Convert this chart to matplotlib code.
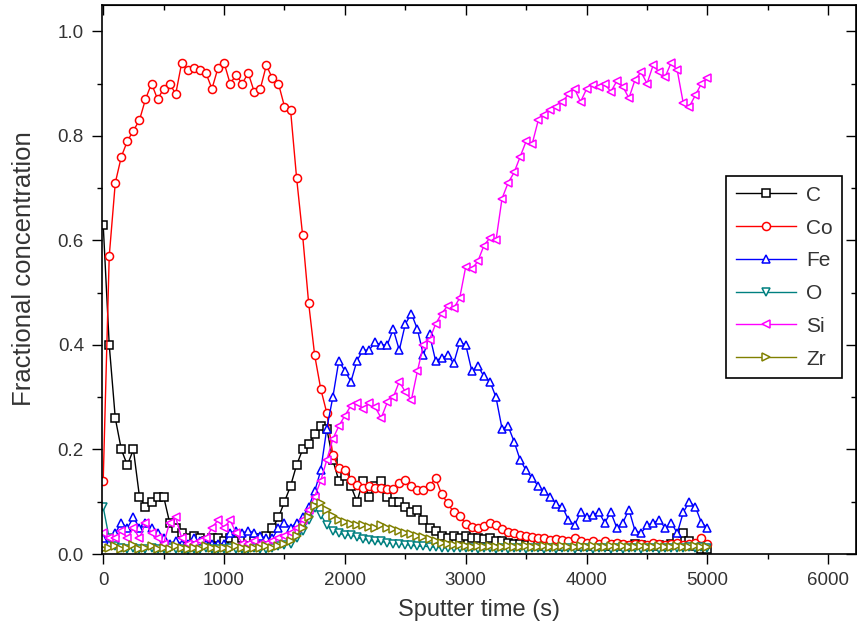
import numpy as np
import matplotlib.pyplot as plt
from matplotlib.ticker import MultipleLocator, FormatStrFormatter

plt.rcParams['font.family'] = ['Liberation Sans', 'DejaVu Sans']

# sputter time grid (s)
tempo = np.arange(0, 5050, 50)

C = [0.63, 0.40, 0.26, 0.20, 0.17, 0.20, 0.11, 0.09, 0.10, 0.11,
     0.11, 0.06, 0.05, 0.04, 0.03, 0.035, 0.03, 0.025, 0.03, 0.03,
     0.025, 0.03, 0.025, 0.03, 0.03, 0.025, 0.03, 0.035, 0.05, 0.07,
     0.10, 0.13, 0.17, 0.20, 0.21, 0.23, 0.245, 0.24, 0.18, 0.14,
     0.15, 0.13, 0.10, 0.14, 0.11, 0.13, 0.14, 0.11, 0.10, 0.10,
     0.09, 0.08, 0.085, 0.065, 0.05, 0.045, 0.035, 0.03, 0.035, 0.03,
     0.035, 0.03, 0.03, 0.028, 0.03, 0.025, 0.025, 0.022, 0.02, 0.02,
     0.018, 0.02, 0.018, 0.016, 0.02, 0.018, 0.016, 0.018, 0.02, 0.016,
     0.018, 0.015, 0.018, 0.016, 0.015, 0.018, 0.016, 0.015, 0.02, 0.018,
     0.016, 0.015, 0.018, 0.016, 0.02, 0.03, 0.04, 0.025, 0.015, 0.01, 0.01]

Co = [0.14, 0.57, 0.71, 0.76, 0.79, 0.81, 0.83, 0.87, 0.90, 0.87,
      0.89, 0.90, 0.88, 0.94, 0.925, 0.93, 0.925, 0.92, 0.89, 0.93,
      0.94, 0.90, 0.916, 0.90, 0.92, 0.884, 0.89, 0.935, 0.91, 0.90,
      0.856, 0.85, 0.72, 0.61, 0.48, 0.38, 0.316, 0.27, 0.19, 0.164,
      0.16, 0.142, 0.132, 0.126, 0.13, 0.126, 0.126, 0.124, 0.125, 0.135,
      0.142, 0.13, 0.122, 0.122, 0.13, 0.145, 0.115, 0.097, 0.08, 0.072,
      0.058, 0.052, 0.05, 0.053, 0.06, 0.055, 0.048, 0.042, 0.04, 0.037,
      0.035, 0.033, 0.03, 0.03, 0.027, 0.028, 0.026, 0.025, 0.03, 0.025,
      0.022, 0.025, 0.02, 0.024, 0.02, 0.022, 0.02, 0.018, 0.02, 0.02,
      0.018, 0.022, 0.02, 0.018, 0.02, 0.022, 0.018, 0.02, 0.022, 0.03, 0.02]

Fe = [0.03, 0.02, 0.04, 0.06, 0.05, 0.07, 0.05, 0.06, 0.05, 0.04,
      0.03, 0.02, 0.025, 0.02, 0.02, 0.03, 0.025, 0.02, 0.02, 0.02,
      0.02, 0.04, 0.045, 0.04, 0.045, 0.04, 0.035, 0.03, 0.03, 0.05,
      0.06, 0.05, 0.06, 0.07, 0.09, 0.12, 0.16, 0.24, 0.30, 0.37,
      0.35, 0.33, 0.37, 0.39, 0.39, 0.405, 0.40, 0.40, 0.43, 0.39,
      0.44, 0.46, 0.43, 0.38, 0.42, 0.37, 0.375, 0.38, 0.365, 0.405,
      0.40, 0.35, 0.36, 0.34, 0.33, 0.30, 0.24, 0.245, 0.215, 0.18,
      0.16, 0.145, 0.13, 0.12, 0.11, 0.095, 0.09, 0.065, 0.055, 0.08,
      0.07, 0.075, 0.08, 0.06, 0.08, 0.05, 0.06, 0.085, 0.045, 0.04,
      0.055, 0.06, 0.065, 0.05, 0.06, 0.04, 0.08, 0.10, 0.09, 0.06, 0.05]

O = [0.09, 0.03, 0.015, 0.012, 0.01, 0.012, 0.01, 0.01, 0.012, 0.01,
     0.01, 0.012, 0.01, 0.01, 0.008, 0.01, 0.01, 0.012, 0.01, 0.01,
     0.01, 0.012, 0.01, 0.01, 0.01, 0.012, 0.01, 0.01, 0.012, 0.015,
     0.018, 0.02, 0.03, 0.045, 0.065, 0.088, 0.075, 0.056, 0.045, 0.04,
     0.036, 0.037, 0.032, 0.028, 0.027, 0.024, 0.024, 0.022, 0.02, 0.02,
     0.018, 0.017, 0.015, 0.015, 0.014, 0.013, 0.012, 0.012, 0.012, 0.011,
     0.011, 0.012, 0.01, 0.011, 0.012, 0.01, 0.011, 0.01, 0.012, 0.011,
     0.01, 0.011, 0.012, 0.01, 0.011, 0.01, 0.012, 0.011, 0.01, 0.011,
     0.012, 0.01, 0.011, 0.012, 0.01, 0.011, 0.01, 0.012, 0.011, 0.01,
     0.011, 0.012, 0.01, 0.011, 0.012, 0.011, 0.012, 0.013, 0.012, 0.014, 0.012]

Si = [0.04, 0.03, 0.03, 0.045, 0.03, 0.05, 0.03, 0.06, 0.04, 0.03,
      0.02, 0.06, 0.07, 0.03, 0.02, 0.02, 0.025, 0.03, 0.05, 0.065,
      0.05, 0.065, 0.04, 0.02, 0.02, 0.025, 0.02, 0.02, 0.025, 0.03,
      0.035, 0.04, 0.05, 0.065, 0.085, 0.11, 0.14, 0.18, 0.22, 0.245,
      0.265, 0.284, 0.288, 0.278, 0.288, 0.281, 0.26, 0.29, 0.30, 0.33,
      0.31, 0.295, 0.35, 0.40, 0.41, 0.44, 0.46, 0.475, 0.47, 0.49,
      0.55, 0.545, 0.56, 0.59, 0.605, 0.60, 0.68, 0.71, 0.73, 0.76,
      0.79, 0.785, 0.83, 0.84, 0.85, 0.856, 0.865, 0.88, 0.89, 0.865,
      0.89, 0.897, 0.894, 0.90, 0.884, 0.905, 0.894, 0.872, 0.907, 0.922,
      0.90, 0.935, 0.922, 0.913, 0.94, 0.925, 0.862, 0.856, 0.878, 0.90, 0.91]

Zr = [0.01, 0.012, 0.015, 0.01, 0.012, 0.018, 0.01, 0.012, 0.015, 0.01,
      0.012, 0.01, 0.015, 0.012, 0.01, 0.012, 0.01, 0.015, 0.012, 0.01,
      0.012, 0.01, 0.015, 0.012, 0.01, 0.012, 0.012, 0.015, 0.012, 0.015,
      0.02, 0.025, 0.035, 0.05, 0.07, 0.092, 0.097, 0.085, 0.072, 0.065,
      0.062, 0.058, 0.056, 0.055, 0.052, 0.05, 0.055, 0.05, 0.048, 0.045,
      0.04, 0.038, 0.035, 0.032, 0.028, 0.025, 0.022, 0.02, 0.018, 0.017,
      0.015, 0.014, 0.016, 0.013, 0.015, 0.014, 0.013, 0.015, 0.014, 0.013,
      0.015, 0.013, 0.014, 0.016, 0.013, 0.014, 0.015, 0.013, 0.014, 0.015,
      0.013, 0.015, 0.014, 0.013, 0.015, 0.014, 0.016, 0.013, 0.014, 0.015,
      0.013, 0.014, 0.015, 0.013, 0.014, 0.015, 0.013, 0.014, 0.015, 0.014, 0.013]

elementos = ['C', 'Co', 'Fe', 'O', 'Si', 'Zr']
series = [C, Co, Fe, O, Si, Zr]
cores = ['black', '#FF0000', '#0000FF', '#008080', '#FF00FF', '#808000']
marcadores = ['s', 'o', '^', 'v', '<', '>']

fig = plt.figure(figsize=(8.57, 6.42), dpi=100)
ax = fig.add_axes([0.119, 0.137, 0.880, 0.855])

for nome, y, cor, m in zip(elementos, series, cores, marcadores):
    ax.plot(tempo, y, color=cor, lw=1.0, marker=m, ms=5.8, mfc='white',
            mec=cor, mew=1.1, label=nome)

ax.set_xlim(-10, 6230)
ax.set_ylim(0, 1.05)
ax.xaxis.set_major_locator(MultipleLocator(1000))
ax.xaxis.set_minor_locator(MultipleLocator(500))
ax.yaxis.set_major_locator(MultipleLocator(0.2))
ax.yaxis.set_minor_locator(MultipleLocator(0.1))
ax.yaxis.set_major_formatter(FormatStrFormatter('%.1f'))

texto = '#333333'
ax.tick_params(which='both', direction='out', width=1.0, labelsize=13.5,
               labelcolor=texto, top=False, right=False)
ax.tick_params(which='major', length=7, pad=6)
ax.tick_params(which='minor', length=3.5)
for s in ax.spines.values():
    s.set_linewidth(1.2)

# eixos de cima e da direita com ticks para dentro
topo = ax.secondary_xaxis('top')
topo.xaxis.set_major_locator(MultipleLocator(1000))
topo.xaxis.set_minor_locator(MultipleLocator(500))
topo.tick_params(which='both', direction='in', labeltop=False, width=1.0)
topo.tick_params(which='major', length=7)
topo.tick_params(which='minor', length=3.5)
direita = ax.secondary_yaxis('right')
direita.yaxis.set_major_locator(MultipleLocator(0.2))
direita.yaxis.set_minor_locator(MultipleLocator(0.1))
direita.tick_params(which='both', direction='in', labelright=False, width=1.0)
direita.tick_params(which='major', length=7)
direita.tick_params(which='minor', length=3.5)

ax.set_xlabel('Sputter time (s)', fontsize=17, color=texto, labelpad=7)
ax.set_ylabel('Fractional concentration', fontsize=18.5, color=texto, labelpad=7)
ax.yaxis.set_label_coords(-0.088, 0.52)

leg = ax.legend(loc='upper left', bbox_to_anchor=(0.8276, 0.688), borderaxespad=0,
                fontsize=15, numpoints=1, handlelength=2.9, handletextpad=0.5,
                labelspacing=0.66, borderpad=0.45, fancybox=False, framealpha=1)
leg.get_frame().set_edgecolor('black')
leg.get_frame().set_linewidth(1.2)
for t in leg.get_texts():
    t.set_color(texto)

plt.savefig('out.png', dpi=100)
